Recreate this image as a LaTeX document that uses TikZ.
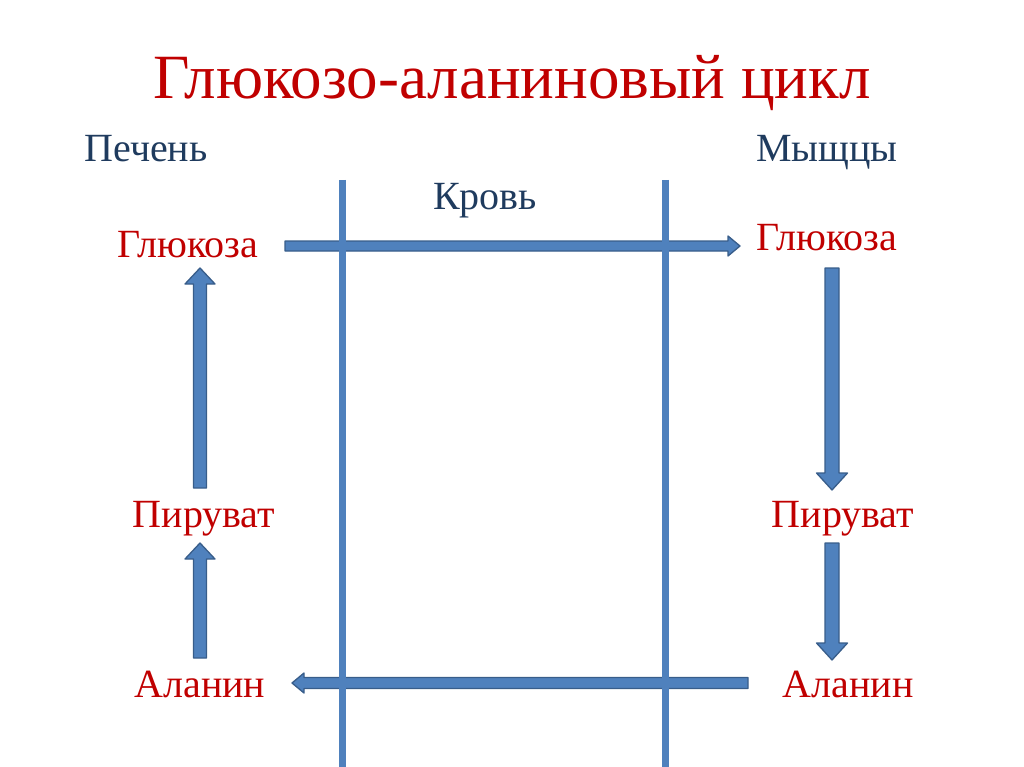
\documentclass[tikz,border=0pt]{standalone}
\usepackage{fontspec}
\setmainfont{Liberation Serif}
\usetikzlibrary{calc}
\definecolor{titlered}{HTML}{C00000}
\definecolor{labblue}{HTML}{1F3B5E}
\definecolor{arrfill}{HTML}{4F81BD}
\definecolor{arrline}{HTML}{385D8A}
\tikzset{
  titletext/.style={text=titlered, font=\fontsize{63}{70}\selectfont, anchor=base, inner sep=0pt},
  organ/.style={text=labblue, font=\fontsize{40}{46}\selectfont, anchor=base, inner sep=0pt},
  chem/.style={text=titlered, font=\fontsize{40}{46}\selectfont, anchor=base, inner sep=0pt},
  barrow/.style={fill=arrfill, draw=arrline, line width=1.3pt, line join=round},
  wall/.style={draw=arrfill, line width=7pt}
}
% #1 start, #2 end, #3 shaft half width, #4 head half width, #5 head length
\newcommand\blockarrow[5]{%
  \draw[barrow] let \p1=(#1), \p2=(#2), \n1={atan2(\y2-\y1,\x2-\x1)} in
    ($(\p1)+(\n1+90:#3)$) --
    ($(\p2)+(\n1+180:#5)+(\n1+90:#3)$) --
    ($(\p2)+(\n1+180:#5)+(\n1+90:#4)$) --
    (\p2) --
    ($(\p2)+(\n1+180:#5)+(\n1-90:#4)$) --
    ($(\p2)+(\n1+180:#5)+(\n1-90:#3)$) --
    ($(\p1)+(\n1-90:#3)$) -- cycle;}
\begin{document}
\begin{tikzpicture}[x=1pt,y=1pt]
\useasboundingbox (0,0) rectangle (1024,-767);
\node[titletext] (title) at (512,-99) {Глюкозо-аланиновый цикл};
\node[organ] (liver) at (146,-162) {Печень};
\node[organ] (muscle) at (827,-162) {Мыщцы};
\node[organ] (blood) at (485,-210) {Кровь};
\node[chem] (glcL) at (188,-258) {Глюкоза};
\node[chem] (glcR) at (827,-250) {Глюкоза};
\node[chem] (pyrL) at (204,-527) {Пируват};
\node[chem] (pyrR) at (843,-527) {Пируват};
\node[chem] (alaL) at (200,-697) {Аланин};
\node[chem] (alaR) at (848,-697) {Аланин};
% arrow end points
\coordinate (gS) at (285,-246);  \coordinate (gE) at (740,-246);
\coordinate (aS) at (748,-683);  \coordinate (aE) at (292,-683);
\coordinate (l1S) at (200,-488); \coordinate (l1E) at (200,-268);
\coordinate (l2S) at (200,-658); \coordinate (l2E) at (200,-543);
\coordinate (r1S) at (832,-268); \coordinate (r1E) at (832,-490);
\coordinate (r2S) at (832,-543); \coordinate (r2E) at (832,-660);
\blockarrow{gS}{gE}{5pt}{10pt}{12pt}
\blockarrow{aS}{aE}{5.5pt}{10pt}{12pt}
\blockarrow{l1S}{l1E}{6.5pt}{15pt}{16pt}
\blockarrow{l2S}{l2E}{6.5pt}{15pt}{16pt}
\blockarrow{r1S}{r1E}{7pt}{15.5pt}{17pt}
\blockarrow{r2S}{r2E}{7pt}{15.5pt}{17pt}
% membranes
\coordinate (w1t) at (342,-180); \coordinate (w1b) at (342,-767);
\coordinate (w2t) at (665,-180); \coordinate (w2b) at (665,-767);
\draw[wall] (w1t) -- (w1b);
\draw[wall] (w2t) -- (w2b);
\end{tikzpicture}
\end{document}
